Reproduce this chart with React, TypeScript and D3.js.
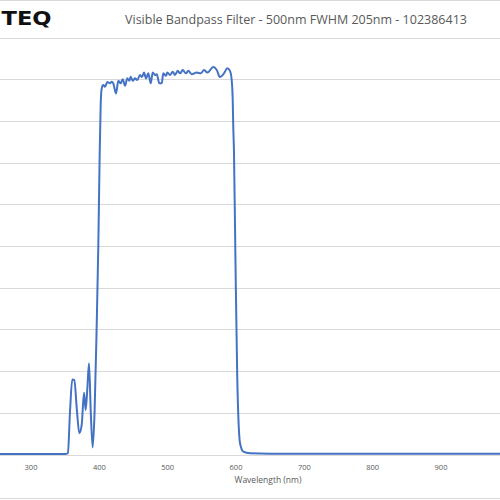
import React from "react";
import * as d3 from "d3";

const title = "Visible Bandpass Filter - 500nm FWHM 205nm - 102386413";
const xLabel = "Wavelength (nm)";
const logoText = "TEQ";
const xTicks = [300, 400, 500, 600, 700, 800, 900, 1000];
const yTicks = [0, 10, 20, 30, 40, 50, 60, 70, 80, 90, 100];

const wavelengths = [
  250, 300, 350, 354, 357, 360.4, 363.4, 367, 370.7, 374.2, 377.6, 380, 382.5, 384.9, 387.5,
  390.3, 393, 396, 398.5, 400.5, 402, 403.5, 405.8, 408.3, 411.7, 415.6, 418.1, 420.4, 424.4,
  427.8, 431.3, 434.2, 437.6, 440.9, 443.9, 445.9, 448.8, 452.2, 455.6, 459.5, 462.4, 465.4,
  468.3, 471.7, 475.2, 478.1, 481.5, 484.0, 487.8, 491.3, 493.6, 497.6, 499.5, 503.4, 507.4,
  510.7, 514.7, 518.1, 522.0, 526.8, 530.2, 535.2, 542.5, 548.4, 553.2, 558.0, 566.8, 571.8,
  576.6, 582.4, 587.3, 591.2, 593.7, 595.2, 596.0, 597.0, 599.2, 601.9, 603.6, 605.9, 610.7,
  620.5, 650, 700, 800, 900, 1000, 1050,
];
const transmission = [
  0.1, 0.1, 0.1, 0.3, 10, 18.0, 17.9, 11, 5.1, 7.1, 14.8, 10.7, 16, 21.9, 10,
  1.7, 10, 29.9, 50, 72, 84, 87.8, 88.6, 88.2, 89.3, 89.0, 89.4, 89.0, 86.6,
  89.6, 89.0, 90.0, 88.4, 90.2, 89.6, 90.6, 89.6, 90.2, 89.8, 91.0, 90.5, 91.6,
  90.2, 91.4, 89.0, 91.6, 91.0, 91.2, 89.0, 89.0, 91.4, 90.8, 91.6, 91.0, 91.8,
  91.0, 92.0, 91.4, 92.2, 91.4, 92.0, 91.2, 91.6, 91.4, 92.2, 91.6, 92.9, 92.2,
  90.5, 91.4, 92.6, 92.0, 89.8, 85.0, 78.6, 73.0, 46.6, 17.9, 8.3, 2.7, 0.7,
  0.3, 0.2, 0.2, 0.2, 0.2, 0.2, 0.2,
];

export default function App() {
  const W = 500;
  const H = 500;
  const x = d3.scaleLinear().domain([300, 900]).range([31, 441]);
  const y = d3.scaleLinear().domain([0, 100]).range([454.5, 37.5]);
  const data = wavelengths.map((w, i) => [w, transmission[i]] as [number, number]);
  const line = d3
    .line<[number, number]>()
    .x((d) => x(d[0]))
    .y((d) => y(d[1]))
    .curve(d3.curveMonotoneX);
  const gray = "#595959";
  return (
    <svg
      width={W}
      height={H}
      style={{ position: "absolute", left: 0, top: 0, background: "#fff" }}
    >
      <rect x={0} y={0} width={W} height={H} fill="#fff" />
      <line x1={0} x2={W} y1={0.5} y2={0.5} stroke="#d9d9d9" />
      <line x1={0} x2={W} y1={498.5} y2={498.5} stroke="#d9d9d9" />
      {yTicks.map((t) => (
        <line
          key={t}
          x1={0}
          x2={W}
          y1={Math.round(y(t)) + 0.5}
          y2={Math.round(y(t)) + 0.5}
          stroke="#d9d9d9"
          strokeWidth={1}
        />
      ))}
      <path d={line(data) || ""} fill="none" stroke="#4472C4" strokeWidth={2} strokeLinejoin="round" />
      {xTicks.map((t) => (
        <text
          key={t}
          x={x(t)}
          y={470}
          textAnchor="middle"
          fontFamily="Open Sans"
          fontSize={7.5}
          fill={gray}
        >
          {t}
        </text>
      ))}
      <text x={268} y={483} textAnchor="middle" fontFamily="Open Sans" fontSize={8.5} fill={gray}>
        {xLabel}
      </text>
      <text x={296} y={24} textAnchor="middle" fontFamily="Open Sans" fontSize={12.5} fill={gray}>
        {title}
      </text>
      <text
        x={1.5}
        y={25}
        fontFamily="DejaVu Sans"
        fontWeight="bold"
        fontSize={20}
        fill="#111"
        textLength={50}
        lengthAdjust="spacingAndGlyphs"
      >
        {logoText}
      </text>
    </svg>
  );
}
